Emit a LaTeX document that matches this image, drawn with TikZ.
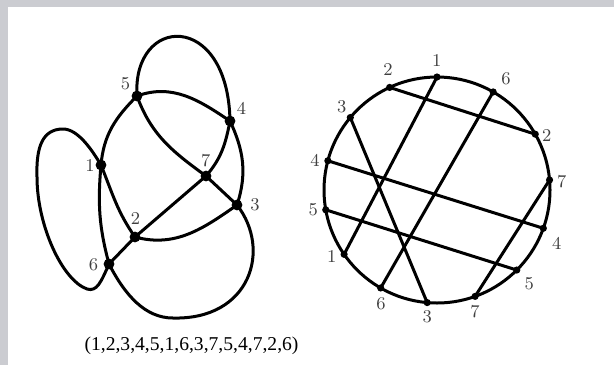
\documentclass[tikz,border=0pt]{standalone}
\usepackage{fontspec}
\newfontfamily\capfont{Liberation Serif}
\definecolor{framegray}{HTML}{CBCCD1}
\begin{document}
\begin{tikzpicture}[x=0.5pt,y=0.5pt,
  curve/.style={line width=1.5pt},
  bigdot/.style={circle,fill=black,inner sep=0pt,minimum size=5.4pt},
  smalldot/.style={circle,fill=black,inner sep=0pt,minimum size=3.6pt},
  lab/.style={font=\fontsize{9}{10}\selectfont,text=black!75,inner sep=0pt}]
\useasboundingbox (0,0) rectangle (614,-365);
\fill[framegray] (0,0) rectangle (614,-365);
\fill[white] (8,-7) rectangle (614,-365);
% ---------- left: the closed curve ----------
\coordinate (v1) at (101,-165);
\coordinate (v2) at (135,-237);
\coordinate (v3) at (237,-205);
\coordinate (v4) at (230,-121);
\coordinate (v5) at (137,-96);
\coordinate (v6) at (109,-264);
\coordinate (v7) at (206,-176);
\coordinate (bot) at (173,-318);
\coordinate (lb) at (87,-289);
\coordinate (ll) at (37,-177);
\coordinate (lt) at (63,-129);
\draw[curve,line join=round] (v1) to[out=-68,in=125] (v2)
  to[out=-15,in=215] (v3)
  to[out=72,in=-65] (v4)
  to[out=146,in=20] (v5)
  to[out=-135,in=85] (v1)
  to[out=-95,in=105] (v6)
  .. controls (125,-295) and (145,-318) .. (bot)
  .. controls (250,-320) and (272,-250) .. (v3)
  -- (v7)
  to[out=144,in=-70] (v5)
  .. controls (132,-15) and (228,-10) .. (v4)
  to[out=-101,in=49] (v7)
  -- (v2) -- (v6)
  .. controls (101,-282) and (97,-292) .. (lb)
  .. controls (62,-280) and (37,-225) .. (ll)
  .. controls (36,-148) and (42,-129) .. (lt)
  .. controls (78,-129) and (92,-150) .. (v1);
\foreach \i in {1,...,7} \node[bigdot] (d\i) at (v\i) {};
\node[lab] (l1) at (90,-165) {1};
\node[lab] (l2) at (135.5,-218.5) {2};
\node[lab] (l3) at (255,-205) {3};
\node[lab] (l4) at (241.5,-108.5) {4};
\node[lab] (l5) at (125.5,-83.5) {5};
\node[lab] (l6) at (93.5,-265) {6};
\node[lab] (l7) at (205.7,-160.5) {7};
\node[font=\capfont\fontsize{9.8}{11}\selectfont,anchor=base,inner sep=0pt] (cap) at (191.5,-350.5) {(1,2,3,4,5,1,6,3,7,5,4,7,2,6)};
% ---------- right: circle with chords ----------
\begin{scope}[shift={(437,-190)}]
\coordinate (cc) at (0,0);
\draw[curve] (cc) circle[radius=113];
\coordinate (a1) at (90:113);    \coordinate (b1) at (214.7:113);
\coordinate (a2) at (114.8:113); \coordinate (b2) at (29.6:113);
\coordinate (a3) at (140.1:113); \coordinate (b3) at (265:113);
\coordinate (a4) at (165:113);   \coordinate (b4) at (-19.8:113);
\coordinate (a5) at (190.1:113); \coordinate (b5) at (-45.1:113);
\coordinate (a6) at (60.2:113);  \coordinate (b6) at (240.1:113);
\coordinate (a7) at (5.1:113);   \coordinate (b7) at (289.7:113);
\foreach \i in {1,...,7} {
  \draw[curve] (a\i) -- (b\i);
}
\foreach \i in {1,...,7} {
  \node[smalldot] (da\i) at (a\i) {};
  \node[smalldot] (db\i) at (b\i) {};
}
\end{scope}
\node[lab] (ra1) at (436.7,-60.7) {1};
\node[lab] (ra2) at (388,-69.3) {2};
\node[lab] (ra6) at (506,-78.3) {6};
\node[lab] (ra3) at (341.7,-106.7) {3};
\node[lab] (rb2) at (546.7,-135) {2};
\node[lab] (ra4) at (315,-160.7) {4};
\node[lab] (ra7) at (561.7,-181.7) {7};
\node[lab] (ra5) at (313.3,-210) {5};
\node[lab] (rb4) at (556.7,-243.3) {4};
\node[lab] (rb1) at (331.7,-256) {1};
\node[lab] (rb5) at (529.3,-283.3) {5};
\node[lab] (rb6) at (381,-303.3) {6};
\node[lab] (rb3) at (427.3,-316.7) {3};
\node[lab] (rb7) at (475,-311.7) {7};
\end{tikzpicture}
\end{document}
